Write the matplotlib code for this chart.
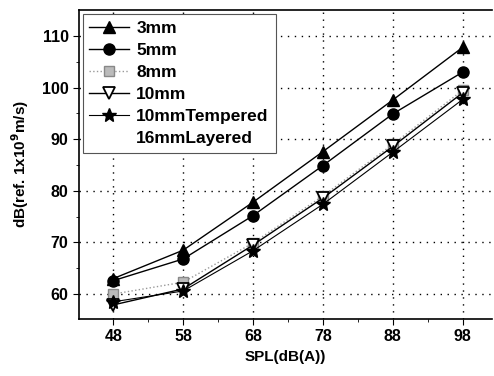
import matplotlib
matplotlib.use('Agg')
from matplotlib import pyplot as plt
from matplotlib.lines import Line2D

plt.rcParams['font.family'] = ['Liberation Sans', 'DejaVu Sans']
plt.rcParams['font.weight'] = 'bold'

spl = [48, 58, 68, 78, 88, 98]
mm3 = [63.0, 68.5, 77.8, 87.6, 97.6, 107.8]
mm5 = [62.6, 66.8, 75.2, 84.9, 94.9, 103.0]
mm8 = [60.0, 62.3, 69.9, 79.0, 89.0, 99.5]
mm10 = [57.9, 61.0, 69.5, 78.6, 88.6, 99.0]
mm10_tempered = [58.5, 60.6, 68.4, 77.4, 87.5, 97.7]

fig = plt.figure(figsize=(4.94, 3.76), dpi=100)
ax = fig.add_axes([0.16, 0.152, 0.836, 0.821])

ax.plot(spl, mm3, color='black', lw=1.0, marker='^', ms=9, label='3mm')
ax.plot(spl, mm5, color='black', lw=1.0, marker='o', ms=8, label='5mm')
ax.plot(spl, mm8, color='#999999', lw=1.0, ls=':', marker='s', ms=7,
        mfc='#bbbbbb', mec='#888888', label='8mm')
ax.plot(spl, mm10, color='black', lw=1.0, marker='v', ms=9, mfc='white',
        mew=1.3, label='10mm')
ax.plot(spl, mm10_tempered, color='black', lw=0.8, marker='*', ms=10,
        label='10mmTempered')
ax.add_line(Line2D([], [], ls='none', label='16mmLayered'))

ax.set_xlim(43.1, 102.2)
ax.set_ylim(55.2, 115)
ax.set_xticks(spl)
ax.set_xticks([53, 63, 73, 83, 93], minor=True)
ax.set_yticks([60, 70, 80, 90, 100, 110])
ax.set_yticks([65, 75, 85, 95, 105], minor=True)
ax.tick_params(labelsize=11.5, direction='out', length=4)
ax.tick_params(which='minor', direction='out', length=2)
ax.grid(True, ls=(0, (1, 4)), color='black', lw=1.0)

ax.spines['right'].set_visible(False)
for s in ['left', 'bottom', 'top']:
    ax.spines[s].set_linewidth(1.2)

ax.set_xlabel('SPL(dB(A))', fontsize=11, fontweight='bold')
ax.set_ylabel('dB(ref. 1x10$^{9}$m/s)', fontsize=11, fontweight='bold',
              labelpad=8)

leg = ax.legend(loc='upper left', fontsize=12.5, handlelength=2.3,
                handletextpad=0.4, borderaxespad=0.2, labelspacing=0.4,
                fancybox=False, framealpha=1)
leg.get_frame().set_edgecolor('#555555')
leg.get_frame().set_linewidth(0.8)

fig.savefig('out.png', dpi=100)
